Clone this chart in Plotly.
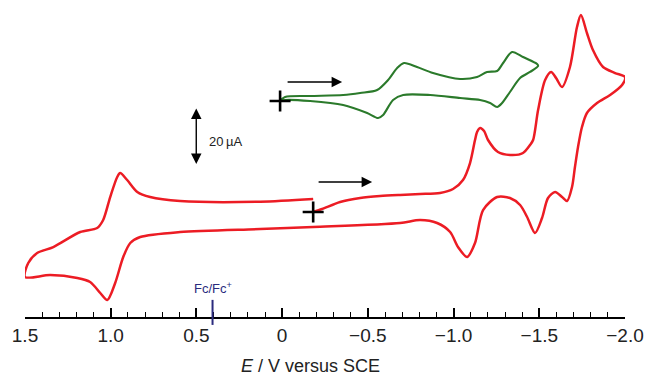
import plotly.graph_objects as go

# ---- data (E in V vs SCE, current in µA; cathodic current plotted up) ----
E_red = [-0.181, -0.233, -0.338, -0.455, -0.571, -0.688, -0.805, -0.921, -0.997, -1.055,
         -1.096, -1.125, -1.137, -1.155, -1.178, -1.201, -1.259, -1.341, -1.405, -1.446,
         -1.464, -1.493, -1.534, -1.569, -1.598, -1.633, -1.679, -1.720, -1.743, -1.778,
         -1.813, -1.872, -1.942, -2.000,
         -1.983, -1.913, -1.837, -1.778, -1.749, -1.726, -1.708, -1.691, -1.662, -1.633,
         -1.592, -1.551, -1.516, -1.475, -1.429, -1.388, -1.329, -1.254, -1.172, -1.125,
         -1.079, -1.026, -0.980, -0.904, -0.805, -0.688, -0.181, 0.128, 0.595, 0.828,
         0.886, 0.927, 0.974, 1.020, 1.061, 1.120, 1.195, 1.353, 1.500,
         1.481, 1.429, 1.335, 1.178, 1.079, 1.044, 1.003, 0.962, 0.945, 0.904,
         0.845, 0.770, 0.595, 0.128, -0.181]
I_red = [0, 1.05, 3.51, 4.9, 5.6, 6.0, 6.3, 6.7, 8.07, 11.23,
         17.19, 25.26, 28.07, 29.47, 28.4, 25.26, 21.05, 20.0, 20.70, 23.51,
         25.26, 35.79, 46.31, 49.12, 47.0, 43.86, 50.88, 64.91, 69.12, 62.81,
         56.84, 50.88, 48.77, 47.37,
         44.56, 41.05, 38.25, 34.74, 29.82, 22.81, 15.79, 8.77, 3.86, 5.26,
         7.02, 4.91, -2.11, -7.37, -1.75, 2.46, 4.91, 5.26, 0.70, -10.88,
         -15.79, -12.28, -7.02, -3.86, -2.81, -3.86, -5.26, -5.96, -7.02, -8.77,
         -10.88, -15.79, -24.91, -30.88, -28.42, -24.56, -23.16, -22.11, -22.81,
         -17.89, -14.39, -12.28, -7.02, -5.61, -2.81, 5.26, 12.28, 13.68, 11.23,
         7.02, 5.26, 3.86, 3.61, 4.56]

E_green = [0.012, -0.017, -0.163, -0.356, -0.455, -0.554, -0.618, -0.671, -0.711, -0.787,
           -0.880, -1.038, -1.137, -1.195, -1.254, -1.289, -1.341, -1.405, -1.487, -1.493,
           -1.446, -1.388, -1.329, -1.283, -1.254, -1.213, -1.155, -1.038, -0.863, -0.706,
           -0.647, -0.589, -0.560, -0.496, -0.356, -0.163, -0.017, 0.012]
I_green = [0, 1.40, 1.75, 2.11, 2.81, 3.86, 7.37, 11.58, 13.33, 11.93,
           9.82, 7.72, 8.42, 10.18, 10.53, 13.33, 17.19, 15.44, 12.98, 12.28,
           10.18, 8.07, 3.16, -0.70, -2.11, -0.70, 0.35, 1.05, 2.11, 2.11,
           0.35, -4.91, -5.96, -4.21, -1.40, 0, 0.35, 0]
GREEN_OFFSET = 38.95  # vertical display offset of the green CV (µA)

tick_vals = [1.5, 1.0, 0.5, 0, -0.5, -1.0, -1.5, -2.0]
tick_text = ["1.5", "1.0", "0.5", "0", "\u22120.5", "\u22121.0", "\u22121.5", "\u22122.0"]
E_FC = 0.406          # Fc/Fc+ position
SCALE_BAR = 20.0      # µA

FONT = "Liberation Sans, Arial, sans-serif"
RED = "#ec1c24"
GREEN = "#2b7a2b"
NAVY = "#2b2b7e"

fig = go.Figure()
fig.add_trace(go.Scatter(x=E_red, y=I_red, mode="lines",
                         line=dict(color=RED, width=2.5, shape="spline", smoothing=0.8),
                         hoverinfo="skip"))
fig.add_trace(go.Scatter(x=E_green, y=[v + GREEN_OFFSET for v in I_green], mode="lines",
                         line=dict(color=GREEN, width=2.1, shape="spline", smoothing=0.8),
                         hoverinfo="skip"))
# start markers (+)
fig.add_trace(go.Scatter(x=[E_red[0], E_green[0]], y=[I_red[0], I_green[0] + GREEN_OFFSET],
                         mode="markers",
                         marker=dict(symbol="cross-thin", size=15,
                                     line=dict(color="black", width=2.6)),
                         hoverinfo="skip"))

# scan-direction arrows
for (x0, x1, y) in [(-0.204, -0.525, 10.53), (-0.023, -0.350, 45.6)]:
    fig.add_annotation(x=x1, y=y, ax=x0, ay=y, axref="x", ayref="y", xref="x", yref="y",
                       text="", showarrow=True, arrowhead=2, arrowsize=1.5,
                       arrowwidth=1.4, arrowcolor="black", standoff=0)

# current scale bar
fig.add_annotation(x=0.501, y=16.3 + SCALE_BAR, ax=0.501, ay=16.3, axref="x", ayref="y",
                   xref="x", yref="y", text="", showarrow=True, arrowhead=2,
                   arrowside="end+start", arrowsize=1.5, arrowwidth=1.4,
                   arrowcolor="black", standoff=0, startstandoff=0)
fig.add_annotation(x=0.437, y=24.6, xref="x", yref="y", text="20\u2009\u00b5A",
                   showarrow=False, xanchor="left", yanchor="middle",
                   font=dict(family=FONT, size=13, color="#222"))

# Fc/Fc+ marker
fig.add_shape(type="line", xref="x", yref="paper", x0=E_FC, x1=E_FC, y0=-0.025, y1=0.054,
              line=dict(color=NAVY, width=2))
fig.add_annotation(x=E_FC, y=0.092, xref="x", yref="paper", text="Fc/Fc<sup>+</sup>",
                   showarrow=False, xanchor="center", yanchor="middle",
                   font=dict(family=FONT, size=13, color=NAVY))

# axis title
fig.add_annotation(x=0.475, y=-0.155, xref="paper", yref="paper",
                   text="<i>E</i> / V versus SCE", showarrow=False,
                   xanchor="center", yanchor="middle",
                   font=dict(family=FONT, size=18, color="#222"))

fig.update_layout(
    width=651, height=380,
    margin=dict(l=25, r=26, t=0, b=63),
    paper_bgcolor="white", plot_bgcolor="white",
    showlegend=False,
    xaxis=dict(range=[1.5, -2.0], autorange=False, tickmode="array",
               tickvals=tick_vals, ticktext=tick_text,
               ticks="inside", ticklen=9, tickwidth=1.5, tickcolor="black",
               showline=True, linecolor="black", linewidth=1.6,
               showgrid=False, zeroline=False, mirror=False,
               tickfont=dict(family=FONT, size=19, color="#222"),
               minor=dict(dtick=0.1, tick0=0, ticks="inside", ticklen=5,
                          tickwidth=1.3, tickcolor="black", showgrid=False)),
    yaxis=dict(range=[-36.84, 74.39], autorange=False, visible=False,
               showgrid=False, zeroline=False),
)

fig.write_html("out.html")
